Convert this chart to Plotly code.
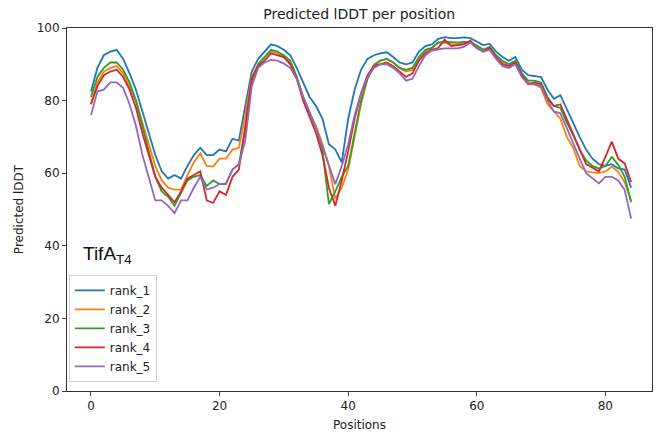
import plotly.graph_objects as go

positions = list(range(85))

rank_1 = [82.5, 89, 92.5, 93.5, 94, 91.5, 87.5, 83, 77, 71,
          65, 60.5, 58.5, 59.5, 58.5, 62, 65, 67, 65, 65,
          66.5, 66, 69.5, 69, 78, 88, 91.5, 93.5, 95.5, 95,
          94, 92.5, 89, 85, 81, 78.5, 75, 68, 66.5, 63,
          75, 83, 88.5, 91.5, 92.5, 93, 93.3, 92, 90.5, 90,
          90.5, 93.5, 95, 95.5, 97, 97.5, 97.2, 97.2, 97.4, 97.2,
          96.2, 95.3, 95.6, 93.5, 92, 91, 92, 88.5, 87, 86.8,
          86.5, 83, 80.5, 81.5, 77.5, 74, 70, 66.5, 64, 62.5,
          62, 62.5, 61.3, 61, 56]

rank_2 = [79, 85, 88, 89, 89.5, 87.5, 84, 80, 74, 68,
          62, 58, 56, 55.5, 55.5, 59.5, 63, 65.5, 62, 61.8,
          64, 64, 66.5, 67, 76, 86.5, 90, 92, 93.5, 93,
          92, 90.5, 86.5, 81, 76.5, 73, 68, 62, 53, 56,
          61, 70, 79, 86, 90, 91, 91.5, 90.5, 89, 88,
          88.5, 91.5, 93.5, 94.5, 96, 96, 95.5, 95.5, 96, 96.2,
          95, 94, 94.5, 92, 90.5, 89.5, 90.5, 87, 85, 84.5,
          83.5, 79, 77, 75, 70, 67, 62, 60.5, 60.2, 60,
          60.5, 61.8, 60.4, 57.5, 52.5]

rank_3 = [81, 86.5, 89, 90.5, 90.5, 88.5, 85, 80, 73, 66,
          59, 55, 53.5, 51, 54.5, 58, 59, 59.5, 56.5, 58,
          57, 57, 61, 62.5, 72, 85.5, 90, 92, 94, 93.5,
          92.5, 91, 86.5, 81, 77, 72.5, 66.5, 51.5, 55, 59,
          62, 71, 80, 86, 89.5, 91, 91.5, 90.5, 89, 88.5,
          89, 92, 94, 94.5, 96, 96.2, 96, 96, 96.2, 96,
          95.2, 94, 94.8, 92.5, 91, 90, 91, 87.5, 85.5, 85.5,
          85, 81, 78.5, 78, 74, 70.5, 66.5, 63.5, 62, 61.3,
          62, 64.5, 62.3, 59, 52]

rank_4 = [79, 84, 87, 88, 88.5, 86.5, 83, 78, 71, 65,
          59, 56, 54, 52, 55, 58.5, 59.5, 60.5, 52.5, 51.8,
          55, 54, 59, 61, 73, 86, 89.5, 91, 93, 92.5,
          92, 90, 86, 80, 75.5, 71, 65, 56, 51, 58,
          66, 75, 82, 87, 89.5, 90, 90.5, 89.5, 88, 86.5,
          87.5, 91, 93, 94, 94.5, 96.8, 95, 95.2, 95.5, 96.5,
          94.5, 93.5, 94.5, 92, 90, 89.5, 90.5, 87, 84.5, 85,
          84.5, 80.5, 78.5, 79, 75, 71, 66.5, 62.5, 61.5, 60.5,
          64.5, 68.7, 64, 62.7, 57.5]

rank_5 = [76, 82.5, 83, 85, 85, 83.5, 79, 73, 65, 59,
          52.5, 52.5, 51, 49, 52.5, 52.5, 56, 59, 55.5, 56,
          57, 57.2, 61, 62.5, 69, 84, 89, 90.5, 91.2, 91,
          90.2, 89, 86, 81, 77, 72.5, 67.5, 62, 57, 62,
          68, 76, 82, 86.5, 89, 90, 90, 89, 87.5, 85.5,
          86, 89.5, 92.5, 93.8, 94.2, 94.4, 94.4, 94.4, 94.8, 96,
          94.5, 93.5, 94, 91.5, 89.5, 89, 90, 86.5, 84.5, 84.5,
          84, 80, 77, 76.5, 72.5, 68, 64, 60, 58.5, 57.2,
          59, 59, 58, 55.4, 47.5]

series = [("rank_1", rank_1, "#1f77b4"),
          ("rank_2", rank_2, "#ff7f0e"),
          ("rank_3", rank_3, "#2ca02c"),
          ("rank_4", rank_4, "#d62728"),
          ("rank_5", rank_5, "#9467bd")]

x_ticks = [0, 20, 40, 60, 80]
y_ticks = [0, 20, 40, 60, 80, 100]

fig = go.Figure()
for name, vals, color in series:
    fig.add_trace(go.Scatter(x=positions, y=vals, mode="lines", name=name,
                             line=dict(color=color, width=1.8)))

font_main = "DejaVu Sans"
fig.update_layout(
    width=658, height=441,
    margin=dict(l=67, r=6, t=28, b=50),
    paper_bgcolor="white", plot_bgcolor="white",
    font=dict(family=font_main, size=12, color="#222"),
    title=dict(text="Predicted lDDT per position", x=0.546, xanchor="center",
               y=0.968, yanchor="middle", font=dict(family=font_main, size=14, color="#222")),
    showlegend=True,
    legend=dict(x=0.003, y=0.32, xanchor="left", yanchor="top",
                bgcolor="rgba(255,255,255,0.8)", bordercolor="#d0d0d0", borderwidth=1,
                font=dict(family=font_main, size=12, color="#222"),
                itemwidth=30, tracegroupgap=0),
    xaxis=dict(range=[-3.73, 87.25], tickvals=x_ticks, ticks="outside", ticklen=4,
               showgrid=False, zeroline=False, showline=True, mirror=True,
               linecolor="#333", linewidth=1,
               title=dict(text="Positions", font=dict(size=12), standoff=8)),
    yaxis=dict(range=[0, 100], tickvals=y_ticks, ticks="outside", ticklen=4,
               showgrid=False, zeroline=False, showline=True, mirror=True,
               linecolor="#333", linewidth=1,
               title=dict(text="Predicted lDDT", font=dict(size=12), standoff=10)),
)

fig.add_annotation(text="TifA<sub>T4</sub>", xref="paper", yref="paper",
                   x=0.024, y=0.375, xanchor="left", yanchor="middle", showarrow=False,
                   font=dict(family="Liberation Sans", size=19, color="#111"))

fig.write_html("out.html")
